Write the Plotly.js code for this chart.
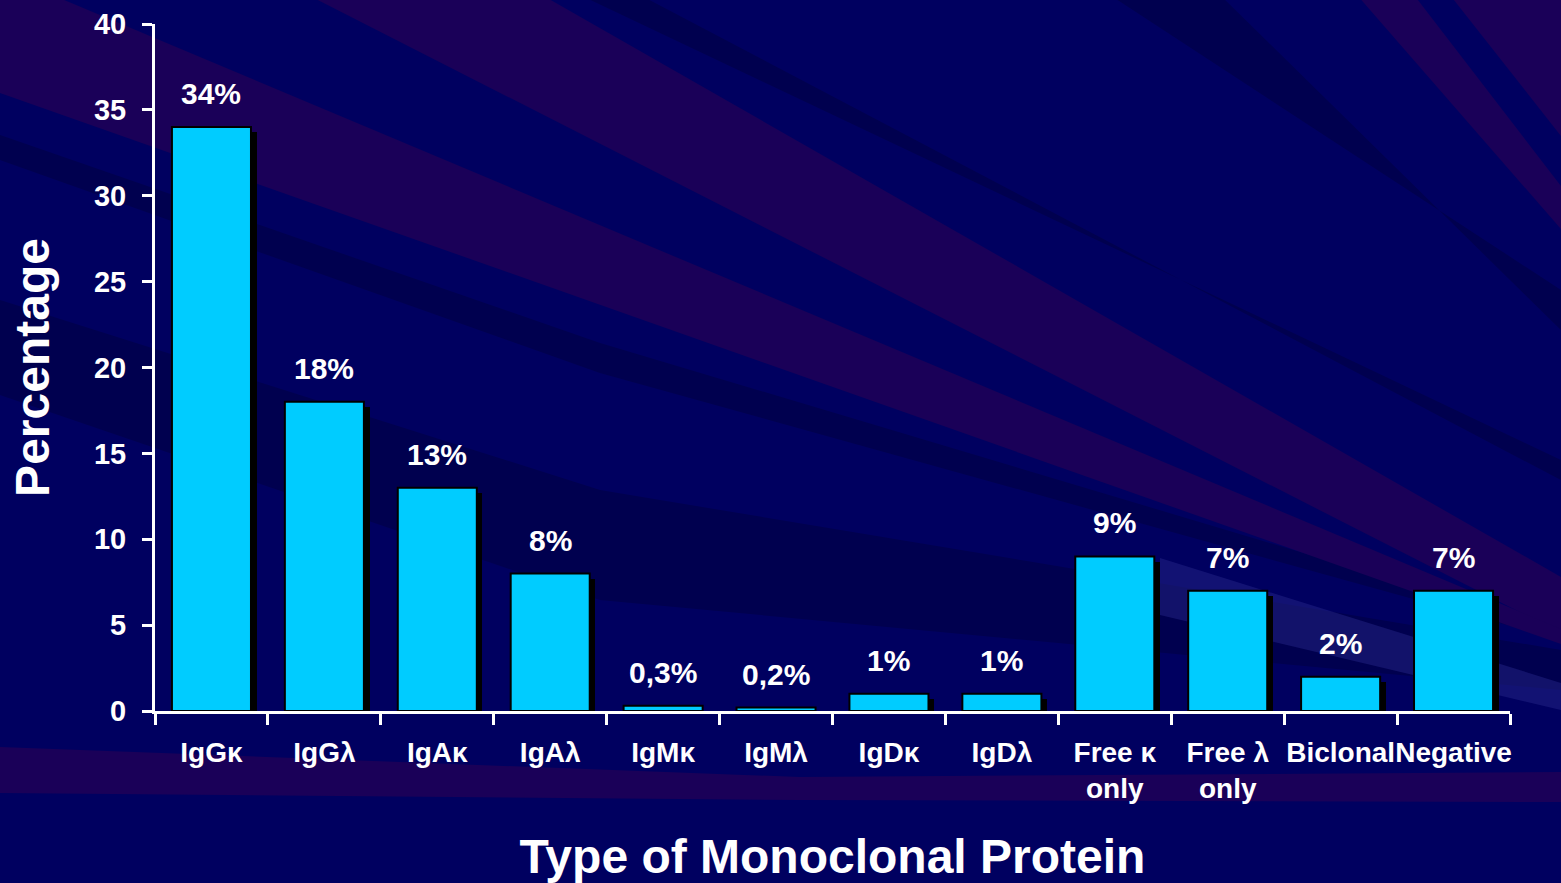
<!DOCTYPE html>
<html>
<head>
<meta charset="utf-8">
<script src="https://cdn.plot.ly/plotly-3.0.1.min.js"></script>
<style>
  html, body { margin: 0; padding: 0; background: #000060; }
  #chart { width: 1561px; height: 883px; }
</style>
</head>
<body>
<div id="chart"></div>
<script>
// ---- data ----
const categories = ["IgGκ", "IgGλ", "IgAκ", "IgAλ", "IgMκ", "IgMλ", "IgDκ", "IgDλ",
                    "Free κ<br>only", "Free λ<br>only", "Biclonal", "Negative"];
const percentages = [34, 18, 13, 8, 0.3, 0.2, 1, 1, 9, 7, 2, 7];
const valueLabels = ["34%", "18%", "13%", "8%", "0,3%", "0,2%", "1%", "1%", "9%", "7%", "2%", "7%"];
const yTicks = [0, 5, 10, 15, 20, 25, 30, 35, 40];

// ---- geometry of the plot area (pixels) ----
const W = 1561, H = 883;
const M = { l: 155, r: 51, t: 24, b: 172 };
const PW = W - M.l - M.r, PH = H - M.t - M.b;
const px = x => (x - M.l) / PW;
const py = y => (H - M.b - y) / PH;

// background light-ray streaks (decoration only)
function poly(pts, color) {
  const d = pts.map((p, i) => (i ? "L" : "M") + px(p[0]).toFixed(4) + "," + py(p[1]).toFixed(4)).join(" ") + " Z";
  return { type: "path", xref: "paper", yref: "paper", path: d, fillcolor: color,
           line: { width: 0 }, layer: "below" };
}
const purple = "#1A0058";
const dark = "rgba(0,0,40,0.3)";
const shapes = [
  // subtle dark streaks
  poly([[0, 300], [0, 395], [600, 600], [1561, 690], [1561, 650], [600, 490]], dark),
  poly([[0, 135], [0, 160], [600, 373], [1561, 640], [1561, 630], [600, 343]], dark),
  poly([[580, -5], [640, -5], [1561, 480], [1561, 460]], dark),
  poly([[1110, -5], [1220, -5], [1561, 330], [1561, 290]], dark),
  // purple rays
  poly([[308, -5], [542, -5], [1561, 577], [1561, 633]], purple),
  poly([[0, -27], [0, 93], [1561, 644], [1561, 629]], purple),
  poly([[1357, -5], [1414, -5], [1561, 186], [1561, 229]], purple),
  poly([[1450, -5], [1561, -5], [1561, 136]], purple),
  // lighter blue ray behind right bars
  poly([[1160, 558], [1561, 683], [1561, 710], [1160, 615]], "rgba(40,40,140,0.45)"),
  // bottom purple band
  poly([[0, 747], [800, 777], [1561, 772], [1561, 802], [800, 800], [0, 793]], purple)
];

// ---- traces ----
const shadowTrace = {
  type: "bar", x: categories, y: percentages, base: -0.3,
  width: 0.7, offset: -0.3,
  marker: { color: "#000000", line: { width: 0 } },
  hoverinfo: "skip", showlegend: false
};
const barTrace = {
  type: "bar", x: categories, y: percentages,
  width: 0.7, offset: -0.35,
  marker: { color: "#00CCFF", line: { color: "#000000", width: 2 } },
  hoverinfo: "skip", showlegend: false
};

const fontFam = "Liberation Sans, Arial, sans-serif";
const annotations = categories.map((c, i) => ({
  x: c, y: percentages[i], xref: "x", yref: "y",
  text: valueLabels[i], showarrow: false, yanchor: "bottom", yshift: 15,
  font: { family: fontFam, size: 30, color: "#FFFFFF", weight: "bold" }
}));

const fontBold = { family: fontFam, color: "#FFFFFF", weight: "bold" };

const layout = {
  width: W, height: H,
  paper_bgcolor: "#000060", plot_bgcolor: "rgba(0,0,0,0)",
  margin: M,
  barmode: "overlay",
  bargap: 0,
  showlegend: false,
  shapes: shapes,
  annotations: annotations,
  xaxis: {
    type: "category",
    tickson: "boundaries",
    tickangle: 0,
    ticks: "outside", ticklen: 11, tickwidth: 3, tickcolor: "#FFFFFF",
    showline: true, linecolor: "#FFFFFF", linewidth: 3,
    showgrid: false, zeroline: false,
    tickfont: Object.assign({ size: 28 }, fontBold),
    ticklabelstandoff: 14,
    title: { text: "Type of Monoclonal Protein", font: Object.assign({ size: 48 }, fontBold), standoff: 38 },
    automargin: false
  },
  yaxis: {
    range: [0, 40],
    tickmode: "array", tickvals: yTicks, ticktext: yTicks.map(String),
    ticks: "outside", ticklen: 10, tickwidth: 3, tickcolor: "#FFFFFF",
    showline: true, linecolor: "#FFFFFF", linewidth: 3,
    showgrid: false, zeroline: false,
    tickfont: Object.assign({ size: 29 }, fontBold),
    ticklabelstandoff: 10,
    title: { text: "Percentage", font: Object.assign({ size: 48 }, fontBold), standoff: 30 },
    automargin: false
  }
};

Plotly.newPlot("chart", [shadowTrace, barTrace], layout, { staticPlot: true, displayModeBar: false });
</script>
</body>
</html>
